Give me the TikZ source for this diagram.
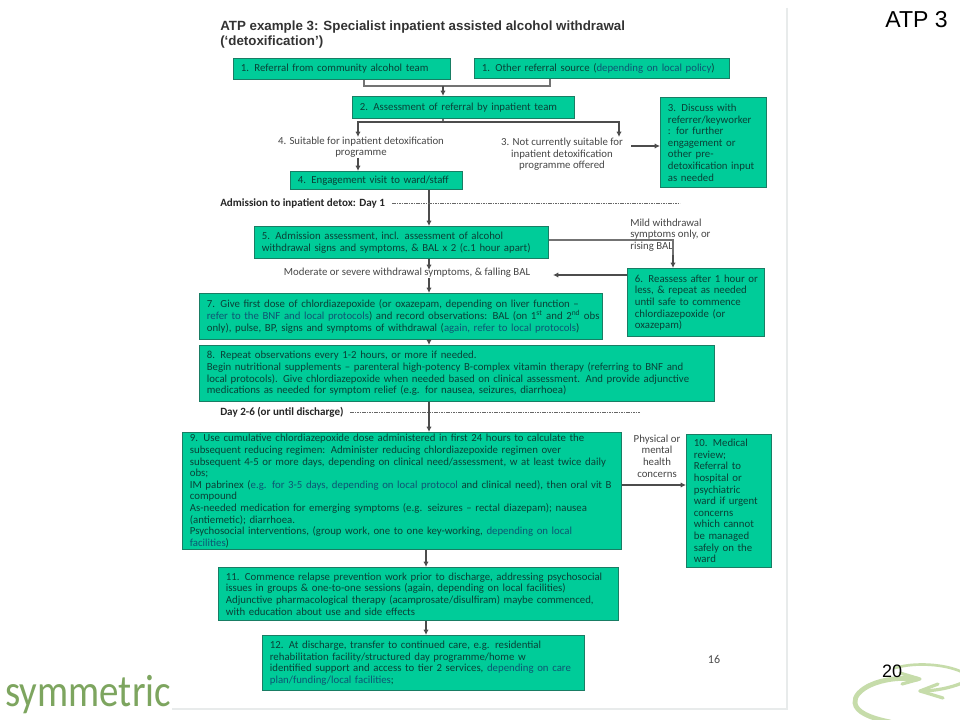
\documentclass[tikz,border=0pt]{standalone}
\usepackage{fontspec}
\usepackage{graphicx}
\usepackage{xcolor}
\usepackage{tikz}
\usetikzlibrary{
	arrows.meta,
	calc,
	positioning
}
\setmainfont{Carlito}
\newfontfamily\arialfont{Liberation Sans}
\definecolor{BoxGreen}{RGB}{0,204,153}
\definecolor{BoxEdge}{RGB}{25,125,100}
\definecolor{BoxText}{RGB}{10,65,55}
\definecolor{LocalBlue}{RGB}{15,85,115}
\definecolor{PlainText}{RGB}{70,70,70}
\definecolor{PageEdge}{RGB}{232,235,235}
\definecolor{LogoGreen}{RGB}{125,165,95}
\definecolor{RingGreen}{RGB}{198,220,170}
\newcommand{\localtxt}[1]{\textcolor{LocalBlue}{#1}}
\tikzset{
	stepbox/.style 2 args={draw=BoxEdge, fill=BoxGreen, text=BoxText, line width=0.8pt, anchor=north west,
		align=left, inner xsep=5.5pt, inner ysep=0pt, font=\fontsize{8.1}{8.7}\selectfont,
		text width={(#1)*0.75pt-11pt}, minimum height={(#2)*0.75pt}},
	steplabel/.style={text=PlainText, align=center, inner sep=0pt, font=\fontsize{8.1}{8.7}\selectfont},
	daylabel/.style={text=black!85, anchor=west, inner sep=0pt, font=\fontsize{8.3}{9}\selectfont\bfseries},
	flow/.style={draw=black!70, line width=0.8pt, -{Latex[length=4pt,width=4pt]}},
	plainflow/.style={draw=black!55, line width=0.8pt},
	dayline/.style={draw=black!60, line width=0.6pt, dash pattern=on 1.2pt off 0.6pt}
}
\begin{document}
\begin{tikzpicture}[x=0.75pt, y=-0.75pt]
	\useasboundingbox (0,0) rectangle (960,720);
	\fill[white] (0,0) rectangle (960,720);
	% page
	\draw[PageEdge, line width=0.8pt] (787,8) -- (787,709) -- (172,709);
	\node[anchor=north west, inner sep=0pt, align=left, text=black!80, font=\arialfont\fontsize{10}{11.2}\selectfont\bfseries] (title) at (220,20.5)
		{ATP example 3: Specialist inpatient assisted alcohol withdrawal\\(‘detoxification’)};
	\node[anchor=east, inner sep=0pt, font=\arialfont\fontsize{17.3}{19}\selectfont] (slidename) at (948,20) {ATP 3};
	\node[inner sep=0pt, text=black!70, font=\fontsize{9}{10}\selectfont] (pagenum) at (714,659) {16};
	% logo
	\node[anchor=base west, inner sep=0pt, text=LogoGreen, font=\fontsize{34}{36}\selectfont] (logotext) at (5,706) {\scalebox{0.86}[1]{symmetric}};
	\begin{scope}[RingGreen, line cap=round, line join=round]
		\clip (820,650) rectangle (960,720);
		\draw[line width=3.6pt] (917,679) .. controls (880,675) and (853,690) .. (855,703) .. controls (856,712) and (870,718) .. (890,722);
		\draw[line width=2.4pt] (900,673) -- (920,679) -- (902,684);
		\draw[line width=2pt] (895,668) .. controls (915,662) and (945,664) .. (962,672);
		\draw[line width=2.4pt] (962,683) .. controls (950,688) and (935,691) .. (920,691);
		\draw[line width=2.4pt] (938,684) -- (920,691) -- (943,698);
	\end{scope}
	\node[inner sep=0pt, font=\arialfont\fontsize{13.5}{15}\selectfont] (slidenum) at (892,671) {20};
	% referral
	\node[stepbox={217}{21}] (refa) at (233,58) {1. Referral from community alcohol team};
	\node[stepbox={255}{20}] (refb) at (474,58) {1. Other referral source (\localtxt{depending on local policy})};
	\node[stepbox={222}{22}] (assess) at (352,96) {2. Assessment of referral by inpatient team};
	\node[stepbox={106}{90}] (discuss) at (660,97) {3. Discuss with\\referrer/keyworker\\: for further\\engagement or\\other pre-\\\makebox[\linewidth][l]{detoxification input}\\as needed};
	\node[steplabel] (suitable) at (361,147) {4. Suitable for inpatient detoxification\\programme};
	\node[steplabel] (notsuitable) at (562,154.5) {3. Not currently suitable for\\inpatient detoxification\\programme offered};
	\node[stepbox={172}{18}] (visit) at (290,171) {4. Engagement visit to ward/staff};
	\node[daylabel] (dayone) at (220,203) {Admission to inpatient detox: Day 1};
	% day 1
	\node[stepbox={294}{32}] (admit) at (254,226) {5. Admission assessment, incl. assessment of alcohol\\withdrawal signs and symptoms, \& BAL x 2 (c.1 hour apart)};
	\node[steplabel, anchor=west, align=left] (mild) at (630,235) {Mild withdrawal\\symptoms only, or\\rising BAL};
	\node[steplabel] (moderate) at (407,273) {Moderate or severe withdrawal symptoms, \& falling BAL};
	\node[stepbox={137}{68}] (reassess) at (627,268) {\makebox[\linewidth][l]{6. Reassess after 1 hour or}\\less, \& repeat as needed\\until safe to commence\\chlordiazepoxide (or\\oxazepam)};
	\node[stepbox={403}{46}] (dose) at (199,293) {7. Give first dose of chlordiazepoxide (or oxazepam, depending on liver function --\\\makebox[\linewidth][l]{\localtxt{refer to the BNF and local protocols}) and record observations: BAL (on 1\textsuperscript{st} and 2\textsuperscript{nd} obs}\\only), pulse, BP, signs and symptoms of withdrawal (\localtxt{again, refer to local protocols})};
	\node[stepbox={515}{56}] (repeat) at (199,345) {8. Repeat observations every 1-2 hours, or more if needed.\\Begin nutritional supplements -- parenteral high-potency B-complex vitamin therapy (referring to BNF and\\local protocols).  Give chlordiazepoxide when needed based on clinical assessment. And provide adjunctive\\medications as needed for symptom relief (e.g. for nausea, seizures, diarrhoea)};
	\node[daylabel] (daytwo) at (220,412) {Day 2-6 (or until discharge)};
	% day 2-6
	\node[stepbox={439}{117}] (regimen) at (182,432) {9. Use cumulative chlordiazepoxide dose administered in first 24 hours to calculate the\\subsequent reducing regimen:  Administer reducing chlordiazepoxide regimen over\\subsequent 4-5 or more days, depending on clinical need/assessment, w at least twice daily\\obs;\\IM pabrinex (\localtxt{e.g. for 3-5 days, depending on local protocol} and clinical need), then oral vit B\\compound\\As-needed medication for emerging symptoms (e.g. seizures -- rectal diazepam); nausea\\(antiemetic); diarrhoea.\\Psychosocial interventions, (group work, one to one key-working, \localtxt{depending on local}\\\localtxt{facilities})};
	\node[steplabel] (physical) at (657,456) {Physical or\\mental\\health\\concerns};
	\node[stepbox={85}{133}] (review) at (686,434) {10. Medical\\review;\\Referral to\\hospital or\\psychiatric\\ward if urgent\\concerns\\which cannot\\be managed\\safely on the\\ward};
	\node[stepbox={400}{53}] (relapse) at (218,567) {11. Commence relapse prevention work prior to discharge, addressing psychosocial\\issues in groups \& one-to-one sessions (again, depending on local facilities)\\Adjunctive pharmacological therapy (acamprosate/disulfiram) maybe commenced,\\with education about use and side effects};
	\node[stepbox={322}{55}] (transfer) at (262,635) {12. At discharge, transfer to continued care, e.g. residential\\rehabilitation facility/structured day programme/home w\\identified support and access to tier 2 services, \localtxt{depending on care}\\\localtxt{plan/funding/local facilities};};
	% connectors
	\coordinate (join) at (443,86);
	\draw[plainflow] (refa.south -| 364,0) |- (join);
	\draw[plainflow] (refb.south -| 550,0) |- (join);
	\draw[flow] (join) -- (assess.north -| join);
	\coordinate (split) at (443,122);
	\draw[plainflow] (assess.south -| split) -- (split);
	\draw[flow] (split) -| (358,137);
	\draw[flow] (split) -| (619,137);
	\draw[flow] (358,158) -- (visit.north -| 358,0);
	\draw[flow] (631,146) -- (discuss.west |- 0,146);
	\draw[flow] (visit.south -| 429,0) -- (admit.north -| 429,0);
	\coordinate (dayoneend) at (680,203);
	\draw[dayline] (392,203) -- (dayoneend);
	\draw[flow] (admit.south -| 429,0) -- (429,270);
	\draw[flow] (429,278) -- (dose.north -| 429,0);
	\draw[plainflow] (admit.east |- 0,240) -| (673,255);
	\draw[flow] (673,255) -- (reassess.north -| 673,0);
	\draw[flow] (reassess.west |- 0,275) -- (553,275);
	\draw[flow] (dose.south -| 429,0) -- (repeat.north -| 429,0);
	\coordinate (daytwoend) at (640,412);
	\draw[dayline] (350,412) -- (daytwoend);
	\draw[flow] (repeat.south -| 429,0) -- (regimen.north -| 429,0);
	\draw[flow] (regimen.east |- 0,485) -- (review.west |- 0,485);
	\draw[flow] (regimen.south -| 426,0) -- (relapse.north -| 426,0);
	\draw[flow] (relapse.south -| 426,0) -- (transfer.north -| 426,0);
\end{tikzpicture}
\end{document}
